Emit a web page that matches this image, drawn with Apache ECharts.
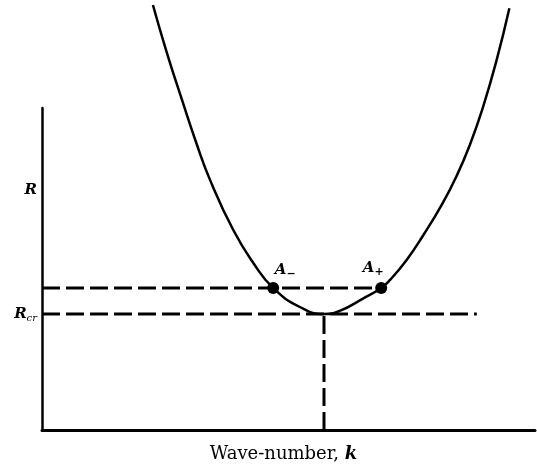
<!DOCTYPE html>
<html>
<head>
<meta charset="utf-8">
<script src="https://cdn.jsdelivr.net/npm/echarts@6/dist/echarts.min.js"></script>
<style>
html,body{margin:0;padding:0;background:#fff}
#chart{width:537px;height:466px}
</style>
</head>
<body>
<div id="chart"></div>
<script>
// neutral curve (k and R in arbitrary units 0..100)
var curveK = [22.5, 25.3, 28.3, 31.2, 34.1, 38.8, 42.9, 46.9, 52.3, 57.2, 60.4, 65.1, 68.8, 70.6, 74.0, 77.3, 81.1, 84.1, 86.8, 89.5, 92.2, 94.8];
var curveR = [132.0, 117.3, 103.0, 89.6, 77.6, 62.1, 51.8, 44.1, 38.2, 36.0, 37.0, 40.8, 44.1, 46.6, 52.9, 60.4, 70.0, 78.9, 88.6, 100.5, 114.8, 131.0];
var Rcr = 36, Rlevel = 44.1, kc = 57.2;
var pointK = [46.9, 68.8];
var pointNames = ['-', '+'];
var dashEndK = 88.2;
var yLabelValues = [74.5, Rcr];

var curve = curveK.map(function (k, i) { return [k, curveR[i]]; });
var serif = '"DejaVu Serif", "Liberation Serif", serif';
var dash = { color: '#000', width: 3, type: [18, 6] };

var myChart = echarts.init(document.querySelector('#chart'));
var option = {
    animation: false,
    backgroundColor: '#fff',
    grid: { left: 42, right: 2, top: 108, bottom: 36, outerBoundsMode: 'none', containLabel: false },
    xAxis: {
        type: 'value', min: 0, max: 100,
        axisLine: { lineStyle: { color: '#000', width: 3 } },
        axisTick: { show: false }, axisLabel: { show: false }, splitLine: { show: false },
        name: '{t|Wave-number, }{k|k}',
        nameLocation: 'middle', nameGap: 15,
        nameTextStyle: {
            padding: [0, 10, 0, 0],
            rich: {
                t: { fontFamily: serif, fontSize: 18, color: '#000' },
                k: { fontFamily: serif, fontSize: 18, fontStyle: 'italic', fontWeight: 'bold', color: '#000' }
            }
        }
    },
    yAxis: {
        type: 'value', min: 0, max: 100,
        axisLine: { show: true, lineStyle: { color: '#000', width: 2.5 } },
        axisTick: { show: false }, splitLine: { show: false },
        axisLabel: {
            customValues: yLabelValues,
            margin: 5,
            formatter: function (v) { return v === Rcr ? '{r|R}{s|cr}' : '{r|R}'; },
            rich: {
                r: { fontFamily: serif, fontSize: 15, fontStyle: 'italic', fontWeight: 'bold', color: '#000' },
                s: { fontFamily: serif, fontSize: 10, fontStyle: 'italic', color: '#000', padding: [8, 0, 0, 0] }
            }
        }
    },
    series: [
        {
            type: 'line', data: curve, smooth: 0.5, symbol: 'none', clip: false,
            lineStyle: { color: '#000', width: 2.5 }
        },
        { type: 'line', data: [[0, Rlevel], [pointK[1], Rlevel]], symbol: 'none', lineStyle: dash },
        { type: 'line', data: [[0, Rcr], [dashEndK, Rcr]], symbol: 'none', lineStyle: dash },
        { type: 'line', data: [[kc, 0], [kc, Rcr]], symbol: 'none', lineStyle: dash },
        {
            type: 'scatter', symbolSize: 12, itemStyle: { color: '#000', opacity: 1 },
            data: pointK.map(function (k, i) {
                return {
                    value: [k, Rlevel],
                    label: {
                        show: true, position: 'top', distance: i === 0 ? 2 : 4,
                        offset: [i === 0 ? 12 : -8, 0],
                        formatter: '{a|A}{s|' + (pointNames[i] === '-' ? '\u2212' : '+') + '}',
                        rich: {
                            a: { fontFamily: serif, fontSize: 15, fontStyle: 'italic', fontWeight: 'bold', color: '#000' },
                            s: { fontFamily: serif, fontSize: 11, fontWeight: 'bold', color: '#000', padding: [8, 0, 0, 0] }
                        }
                    }
                };
            })
        }
    ]
};
myChart.setOption(option, true);
</script>
</body>
</html>
